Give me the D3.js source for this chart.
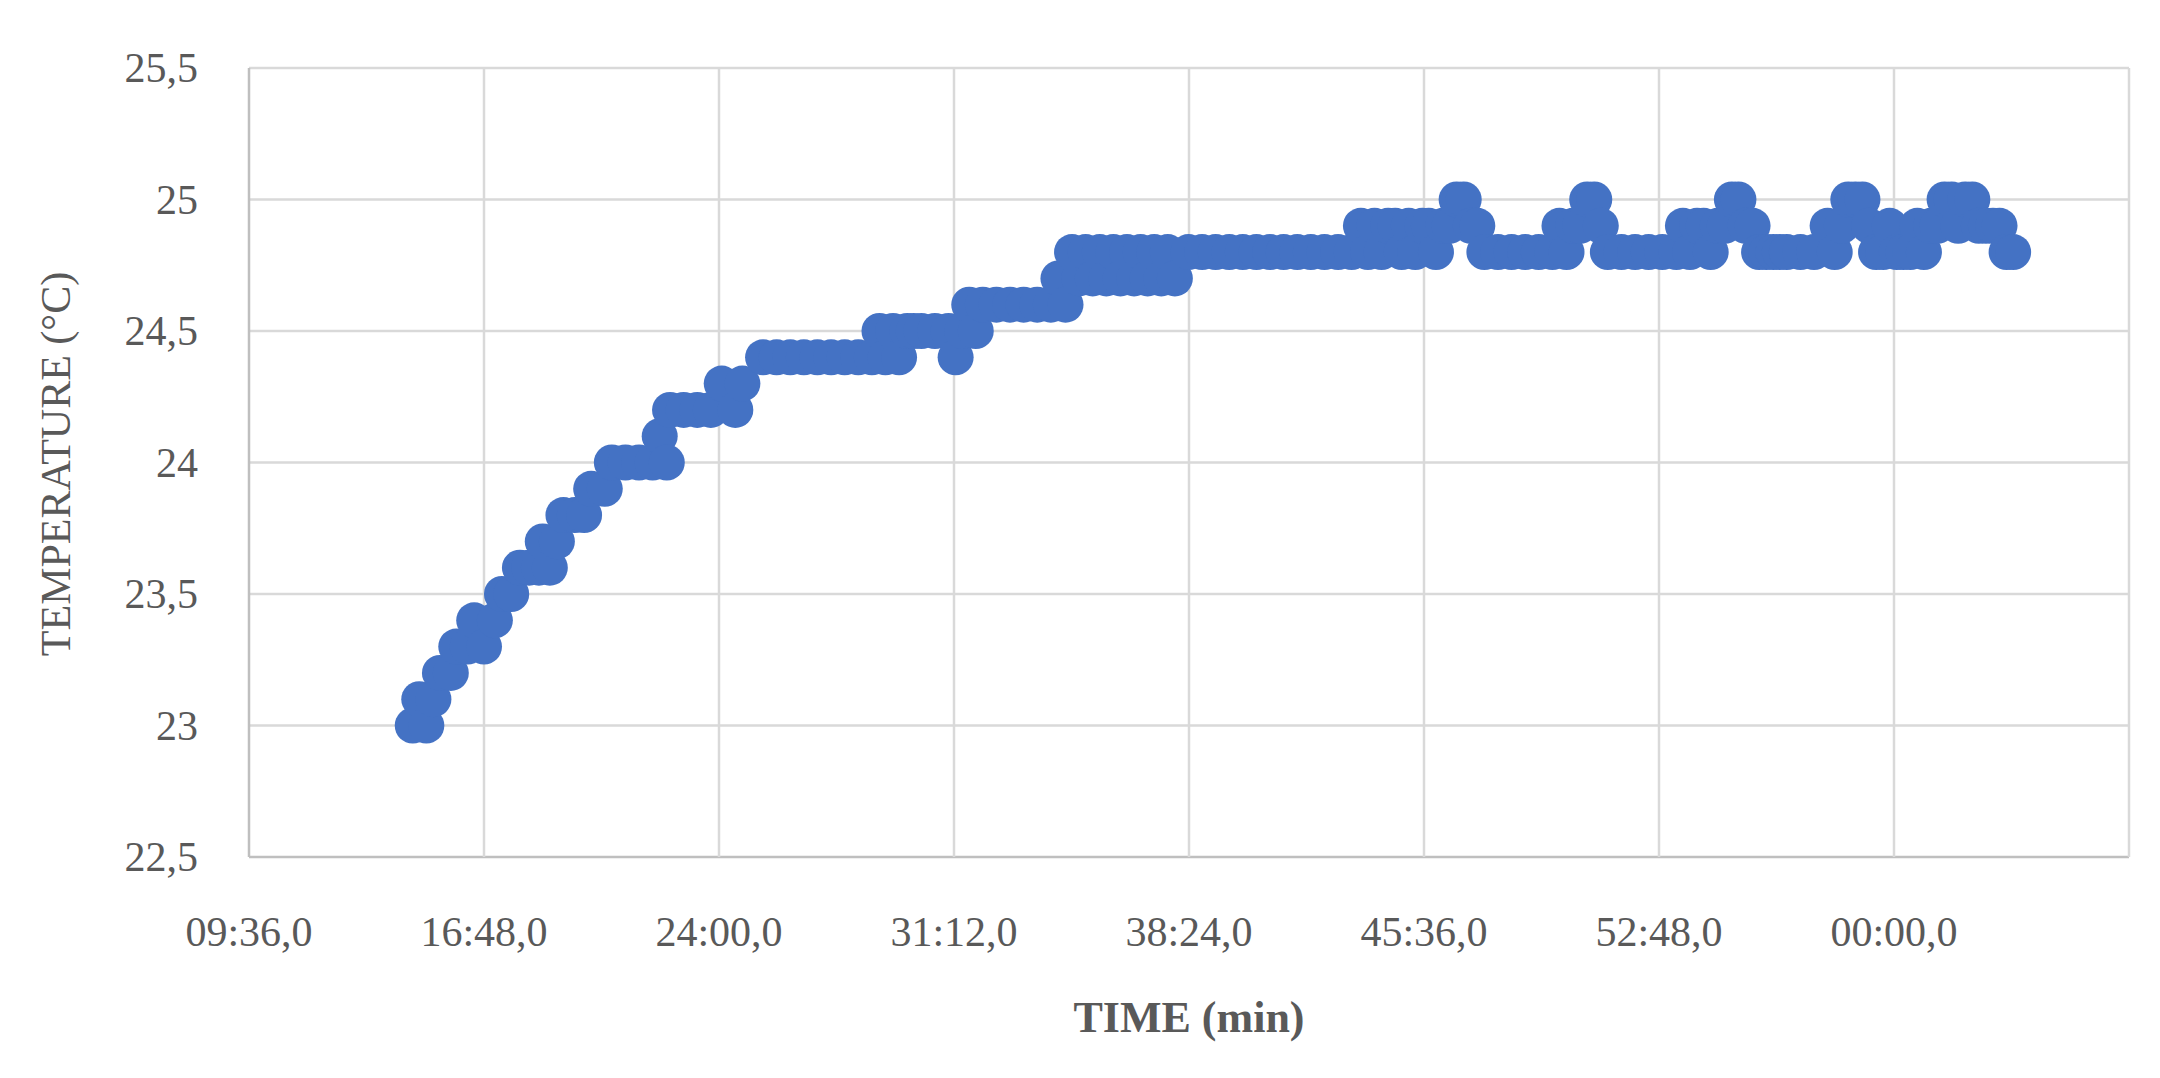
<!DOCTYPE html>
<html><head><meta charset="utf-8">
<script src="https://cdn.jsdelivr.net/npm/d3@7"></script>
<style>body{margin:0;background:#fff}</style></head>
<body><svg id="c" width="2160" height="1078"></svg>
<script>
// readings: [time in seconds (axis starts at 09:36 = 576 s), temperature °C]
const readings = [
[877,23.0],[889,23.1],[902,23.0],[915,23.1],[927,23.2],[947,23.2],[957,23.3],[978,23.3],[990,23.4],[1008,23.3],[1028,23.4],[1041,23.5],[1058,23.5],[1074,23.6],[1091,23.6],[1109,23.6],[1116,23.7],[1129,23.6],[1142,23.7],[1154,23.8],[1175,23.8],[1192,23.8],[1205,23.9],[1230,23.9],[1243,24.0],[1268,24.0],[1293,24.0],[1318,24.0],[1331,24.1],[1344,24.0],[1350,24.2],[1375,24.2],[1400,24.2],[1425,24.2],[1445,24.3],[1470,24.2],[1483,24.3],
[1521,24.4],[1546,24.4],[1571,24.4],[1596,24.4],[1621,24.4],[1646,24.4],[1671,24.4],[1696,24.4],[1721,24.4],[1735,24.5],[1746,24.4],[1760,24.5],[1771,24.4],[1786,24.5],[1798,24.5],[1812,24.5],[1837,24.5],[1862,24.5],[1875,24.4],[1887,24.5],[1900,24.6],[1912,24.5],[1925,24.6],[1950,24.6],[1975,24.6],[2000,24.6],[2025,24.6],[2050,24.6],[2064,24.7],[2077,24.6],[2089,24.8],[2102,24.7],[2114,24.8],[2127,24.7],[2140,24.8],[2152,24.7],[2165,24.8],[2178,24.7],[2190,24.8],[2203,24.7],[2215,24.8],[2228,24.7],[2240,24.8],[2253,24.7],[2265,24.8],[2278,24.7],
[2303,24.8],[2328,24.8],[2353,24.8],[2378,24.8],[2403,24.8],[2428,24.8],[2453,24.8],[2478,24.8],[2503,24.8],[2528,24.8],[2553,24.8],[2578,24.8],[2603,24.8],[2620,24.9],[2633,24.8],[2645,24.9],[2658,24.8],[2670,24.9],[2683,24.9],[2695,24.8],[2708,24.9],[2720,24.8],[2733,24.9],[2745,24.9],[2758,24.8],[2771,24.9],[2783,24.9],[2796,25.0],[2809,25.0],[2822,24.9],[2834,24.9],[2847,24.8],[2872,24.8],[2897,24.8],[2922,24.8],[2947,24.8],[2972,24.8],[2985,24.9],[2998,24.8],[3010,24.9],[3023,24.9],[3036,25.0],[3049,25.0],[3061,24.9],[3074,24.8],[3099,24.8],[3124,24.8],[3149,24.8],[3174,24.8],[3200,24.8],[3212,24.9],[3225,24.8],[3238,24.9],[3250,24.9],[3263,24.8],[3276,24.9],[3289,24.9],[3302,25.0],[3314,25.0],[3327,24.9],[3340,24.9],[3352,24.8],[3365,24.8],[3378,24.8],[3390,24.8],[3403,24.8],[3428,24.8],[3453,24.8],[3478,24.9],[3491,24.8],[3504,24.9],[3516,25.0],[3529,25.0],[3542,25.0],[3554,24.9],[3567,24.8],[3580,24.8],[3592,24.9],[3605,24.8],[3617,24.8],[3630,24.8],[3643,24.9],[3655,24.8],[3668,24.9],[3680,24.9],[3693,25.0],[3706,25.0],[3718,24.9],[3731,25.0],[3744,25.0],[3756,24.9],[3769,24.9],[3782,24.9],[3794,24.9],[3807,24.8],[3819,24.8]
];
const xTicks = [576,1008,1440,1872,2304,2736,3168,3600,4032];
const yTicks = [22.5,23,23.5,24,24.5,25,25.5];

const svg = d3.select("#c");
const L=249,R=2129,T=68,B=857;
const x = d3.scaleLinear().domain([576,4032]).range([L,R]);
const y = d3.scaleLinear().domain([22.5,25.5]).range([B,T]);
const font = "'Liberation Serif','Times New Roman',serif";
const fmtT = s => { const m=Math.floor(s/60)%60, ss=s%60; return String(m).padStart(2,"0")+":"+String(ss).padStart(2,"0")+",0"; };

svg.append("g").selectAll("line").data(yTicks).join("line")
 .attr("x1",L).attr("x2",R).attr("y1",d=>y(d)).attr("y2",d=>y(d))
 .attr("stroke",d=>d===22.5?"#bfbfbf":"#d9d9d9").attr("stroke-width",2.5);
svg.append("g").selectAll("line").data(xTicks).join("line")
 .attr("x1",d=>x(d)).attr("x2",d=>x(d)).attr("y1",T).attr("y2",B)
 .attr("stroke",d=>d===576?"#bfbfbf":"#d9d9d9").attr("stroke-width",2.5);

svg.append("g").selectAll("text").data(yTicks).join("text")
 .attr("x",198).attr("y",d=>y(d)+14).attr("text-anchor","end")
 .attr("font-family",font).attr("font-size",42).attr("fill","#595959")
 .text(d=>String(d).replace(".",","));
svg.append("g").selectAll("text").data(xTicks.slice(0,-1)).join("text")
 .attr("x",d=>x(d)).attr("y",946).attr("text-anchor","middle")
 .attr("font-family",font).attr("font-size",42).attr("fill","#595959")
 .text(fmtT);

svg.append("g").selectAll("circle").data(readings).join("circle")
 .attr("cx",d=>x(d[0])).attr("cy",d=>y(d[1])).attr("r",18).attr("fill","#4472c4");

svg.append("text").attr("x",1189).attr("y",1032).attr("text-anchor","middle")
 .attr("font-family",font).attr("font-size",44).attr("font-weight","bold").attr("fill","#595959").text("TIME (min)");
svg.append("text").attr("transform","translate(70,464) rotate(-90)").attr("text-anchor","middle")
 .attr("font-family",font).attr("font-size",42).attr("fill","#595959").text("TEMPERATURE (°C)");
</script></body></html>
